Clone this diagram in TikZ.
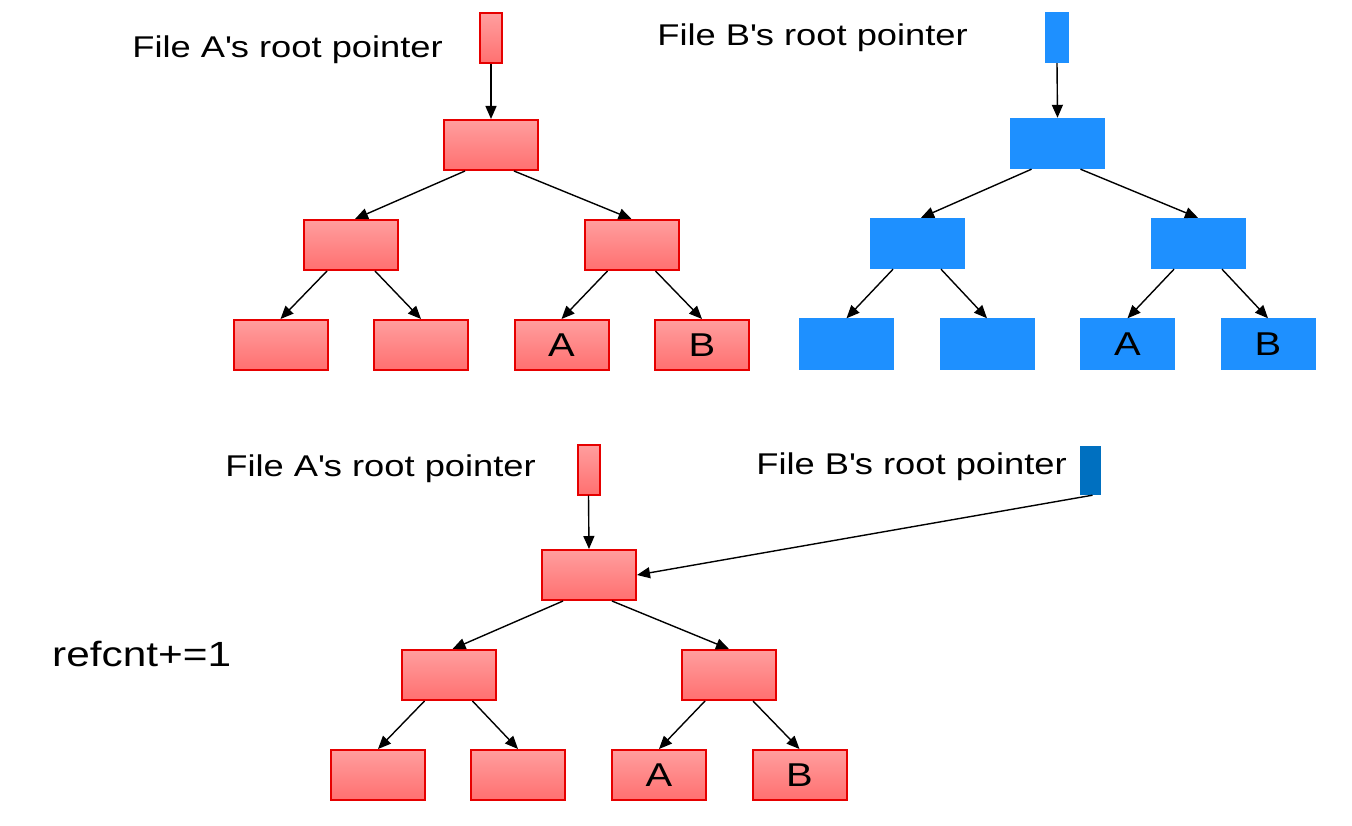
\documentclass[tikz,border=0pt]{standalone}
\usepackage{fontspec}
\setmainfont{Liberation Sans}[FakeStretch=1.21]
\usetikzlibrary{arrows.meta}
\definecolor{rtop}{RGB}{255,158,158}
\definecolor{rbot}{RGB}{255,112,112}
\definecolor{rline}{RGB}{230,0,0}
\definecolor{bfill}{RGB}{30,144,255}
\definecolor{dblue}{RGB}{0,112,192}
\begin{document}
\begin{tikzpicture}[x=1pt,y=-1pt,
  redbox/.style={draw=rline,line width=2pt,top color=rtop,bottom color=rbot,minimum width=94pt,minimum height=50pt,inner sep=0pt,font=\fontsize{33}{35}\selectfont},
  bluebox/.style={fill=bfill,minimum width=95pt,minimum height=51pt,inner sep=0pt,font=\fontsize{33}{35}\selectfont},
  redptr/.style={draw=rline,line width=2pt,top color=rtop,bottom color=rbot,minimum width=22pt,minimum height=50pt,inner sep=0pt},
  blueptr/.style={fill=bfill,minimum width=24pt,minimum height=51pt,inner sep=0pt},
  lbl/.style={font=\fontsize{30}{32}\selectfont,inner sep=0pt},
  arr/.style={line width=1.4pt,-{Triangle[length=13pt,width=11pt]}}]
\useasboundingbox (0,0) rectangle (1352,826);
% ---- Tree A (top left)
\node[redptr] (pa) at (491,38.5) {};
\node[lbl,anchor=east] (la) at (443,50) {File A\textquotesingle s root pointer};
\node[redbox] (a1) at (491,145) {};
\node[redbox] (a2l) at (351,245) {};
\node[redbox] (a2r) at (631.5,245) {};
\node[redbox] (a3a) at (280.5,345) {};
\node[redbox] (a3b) at (421,345) {};
\node[redbox] (a3c) at (561.5,345) {A};
\node[redbox] (a3d) at (702,345) {B};
\draw[arr] (pa.south) -- (a1.north);
\draw[arr] ([xshift=-26pt]a1.south) -- ([xshift=4pt]a2l.north);
\draw[arr] ([xshift=23pt]a1.south) -- (a2r.north);
\draw[arr] ([xshift=-24pt]a2l.south) -- (a3a.north);
\draw[arr] ([xshift=24pt]a2l.south) -- (a3b.north);
\draw[arr] ([xshift=-24pt]a2r.south) -- (a3c.north);
\draw[arr] ([xshift=24pt]a2r.south) -- (a3d.north);
% ---- Tree B (top right)
\node[blueptr] (pb) at (1057,37.5) {};
\node[lbl,anchor=east] (lb) at (968,38) {File B\textquotesingle s root pointer};
\node[bluebox] (b1) at (1057.5,143.5) {};
\node[bluebox] (b2l) at (917,243.5) {};
\node[bluebox] (b2r) at (1198,243.5) {};
\node[bluebox] (b3a) at (846.5,344) {};
\node[bluebox] (b3b) at (987,344) {};
\node[bluebox] (b3c) at (1127.5,344) {A};
\node[bluebox] (b3d) at (1268,344) {B};
\draw[arr] (pb.south) -- (b1.north);
\draw[arr] ([xshift=-26pt]b1.south) -- ([xshift=4pt]b2l.north);
\draw[arr] ([xshift=23pt]b1.south) -- (b2r.north);
\draw[arr] ([xshift=-24pt]b2l.south) -- (b3a.north);
\draw[arr] ([xshift=24pt]b2l.south) -- (b3b.north);
\draw[arr] ([xshift=-24pt]b2r.south) -- (b3c.north);
\draw[arr] ([xshift=24pt]b2r.south) -- (b3d.north);
% ---- Shared tree (bottom)
\node[redptr] (pc) at (588.5,469.5) {};
\node[lbl,anchor=east] (lc) at (536,469) {File A\textquotesingle s root pointer};
\node[blueptr,fill=dblue,minimum width=21pt,minimum height=49pt] (pd) at (1090.5,470.5) {};
\node[lbl,anchor=east] (ld) at (1067,467) {File B\textquotesingle s root pointer};
\node[lbl,anchor=west,font=\fontsize{35}{37}\selectfont] (rc) at (52,654) {refcnt+=1};
\node[redbox] (c1) at (589,575) {};
\node[redbox] (c2l) at (448.5,675) {};
\node[redbox] (c2r) at (729,675) {};
\node[redbox] (c3a) at (378,775) {};
\node[redbox] (c3b) at (518,775) {};
\node[redbox] (c3c) at (659,775) {A};
\node[redbox] (c3d) at (799.5,775) {B};
\draw[arr] (pc.south) -- (c1.north);
\draw[arr] ([xshift=2pt]pd.south) -- (c1.east);
\draw[arr] ([xshift=-26pt]c1.south) -- ([xshift=4pt]c2l.north);
\draw[arr] ([xshift=23pt]c1.south) -- (c2r.north);
\draw[arr] ([xshift=-24pt]c2l.south) -- (c3a.north);
\draw[arr] ([xshift=24pt]c2l.south) -- (c3b.north);
\draw[arr] ([xshift=-24pt]c2r.south) -- (c3c.north);
\draw[arr] ([xshift=24pt]c2r.south) -- (c3d.north);
\end{tikzpicture}
\end{document}
